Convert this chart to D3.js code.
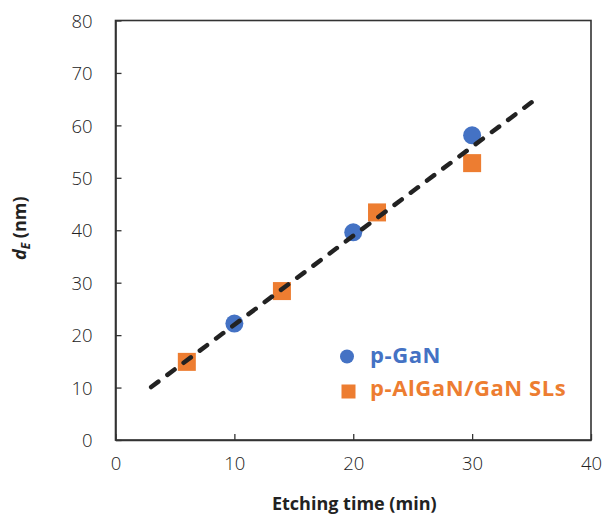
<!DOCTYPE html>
<html>
<head>
<meta charset="utf-8">
<script src="https://cdn.jsdelivr.net/npm/d3@7"></script>
<style>
  html, body { margin: 0; padding: 0; background: #fff; }
  svg { display: block; }
  .tick text { font-family: "Open Sans", "Noto Sans", sans-serif; font-weight: 300; font-size: 18.5px; fill: #222; }
</style>
</head>
<body>
<svg id="chart" width="603" height="516"></svg>
<script>
// Etching depth vs. time for two p-type layers, with a linear fit
const pGaNTime = [10, 20, 30];
const pGaNDepth = [22.2, 39.6, 58.1];
const slTime = [6, 14, 22, 30];
const slDepth = [14.9, 28.4, 43.4, 52.8];
const fitTime = [3, 35];
const fitDepth = [10.1, 64.4];
const xTicks = [0, 10, 20, 30, 40];
const yTicks = [0, 10, 20, 30, 40, 50, 60, 70, 80];
const seriesNames = ["p-GaN", "p-AlGaN/GaN SLs"];
const seriesColors = ["#4472C4", "#ED7D31"];

const svg = d3.select("#chart");
const plotL = 115.5, plotR = 591, plotT = 20.5, plotB = 440;

const x = d3.scaleLinear().domain([0, 40]).range([plotL, plotR]);
const y = d3.scaleLinear().domain([0, 80]).range([plotB, plotT]);

// frame
svg.append("rect")
  .attr("x", plotL).attr("y", plotT)
  .attr("width", plotR - plotL).attr("height", plotB - plotT)
  .attr("fill", "none").attr("stroke", "#333").attr("stroke-width", 1.6);

const xAxis = svg.append("g")
  .attr("transform", `translate(0,${plotB})`)
  .call(d3.axisBottom(x).tickValues(xTicks).tickSizeInner(-6).tickSizeOuter(0).tickPadding(17));
const yAxis = svg.append("g")
  .attr("transform", `translate(${plotL},0)`)
  .call(d3.axisLeft(y).tickValues(yTicks).tickSizeInner(-6).tickSizeOuter(0).tickPadding(23));
[xAxis, yAxis].forEach(g => {
  g.select(".domain").attr("stroke", "#333").attr("stroke-width", 1.6);
  g.selectAll(".tick line").attr("stroke", "#333").attr("stroke-width", 1.3);
});
xAxis.selectAll(".tick text").attr("dy", "0.71em");
yAxis.selectAll(".tick text").attr("dy", "0.36em");

// markers
svg.append("g").selectAll("circle")
  .data(pGaNTime.map((t, i) => [t, pGaNDepth[i]]))
  .join("circle")
  .attr("cx", d => x(d[0])).attr("cy", d => y(d[1]))
  .attr("r", 9).attr("fill", seriesColors[0]);

const sq = 18;
svg.append("g").selectAll("rect")
  .data(slTime.map((t, i) => [t, slDepth[i]]))
  .join("rect")
  .attr("x", d => x(d[0]) - sq / 2).attr("y", d => y(d[1]) - sq / 2)
  .attr("width", sq).attr("height", sq).attr("fill", seriesColors[1]);

// linear fit: dashed, with the gap stretched so a dash sits on both ends
const fit = svg.append("path")
  .datum(fitTime.map((t, i) => [t, fitDepth[i]]))
  .attr("d", d3.line().x(d => x(d[0])).y(d => y(d[1])))
  .attr("fill", "none").attr("stroke", "#222").attr("stroke-width", 4.5)
  .attr("stroke-linecap", "round");
const dash = 9;
const len = fit.node().getTotalLength();
const periods = Math.round((len - dash) / 20);
const gap = (len - dash) / periods - dash;
fit.attr("stroke-dasharray", `${dash},${gap}`);

// legend
const legend = svg.append("g").attr("font-family", "'Open Sans', 'Noto Sans', sans-serif")
  .attr("font-weight", 700).attr("font-size", 22).attr("letter-spacing", 0.6);
legend.append("circle").attr("cx", 347).attr("cy", 356.5).attr("r", 7).attr("fill", seriesColors[0]);
legend.append("text").attr("x", 370).attr("y", 362.5).attr("fill", seriesColors[0]).text(seriesNames[0]);
legend.append("rect").attr("x", 341.5).attr("y", 384.5).attr("width", 14).attr("height", 14).attr("fill", seriesColors[1]);
legend.append("text").attr("x", 370).attr("y", 395.5).attr("fill", seriesColors[1]).text(seriesNames[1]);

// axis titles
svg.append("text")
  .attr("x", (plotL + plotR) / 2 + 1).attr("y", 510)
  .attr("text-anchor", "middle")
  .attr("font-family", "'Open Sans', 'Noto Sans', sans-serif")
  .attr("font-weight", 700).attr("font-size", 18).attr("fill", "#222")
  .text("Etching time (min)");

const yTitle = svg.append("text")
  .attr("transform", `translate(25.5,${(plotT + plotB) / 2 - 2}) rotate(-90)`)
  .attr("text-anchor", "middle")
  .attr("font-family", "'Open Sans', 'Noto Sans', sans-serif")
  .attr("font-weight", 700).attr("font-size", 18).attr("fill", "#222");
yTitle.append("tspan").attr("font-style", "italic").text("d");
yTitle.append("tspan").attr("font-style", "italic").attr("font-size", 12).attr("dy", 4).text("E");
yTitle.append("tspan").attr("dy", -4).text(" (nm)");
</script>
</body>
</html>
